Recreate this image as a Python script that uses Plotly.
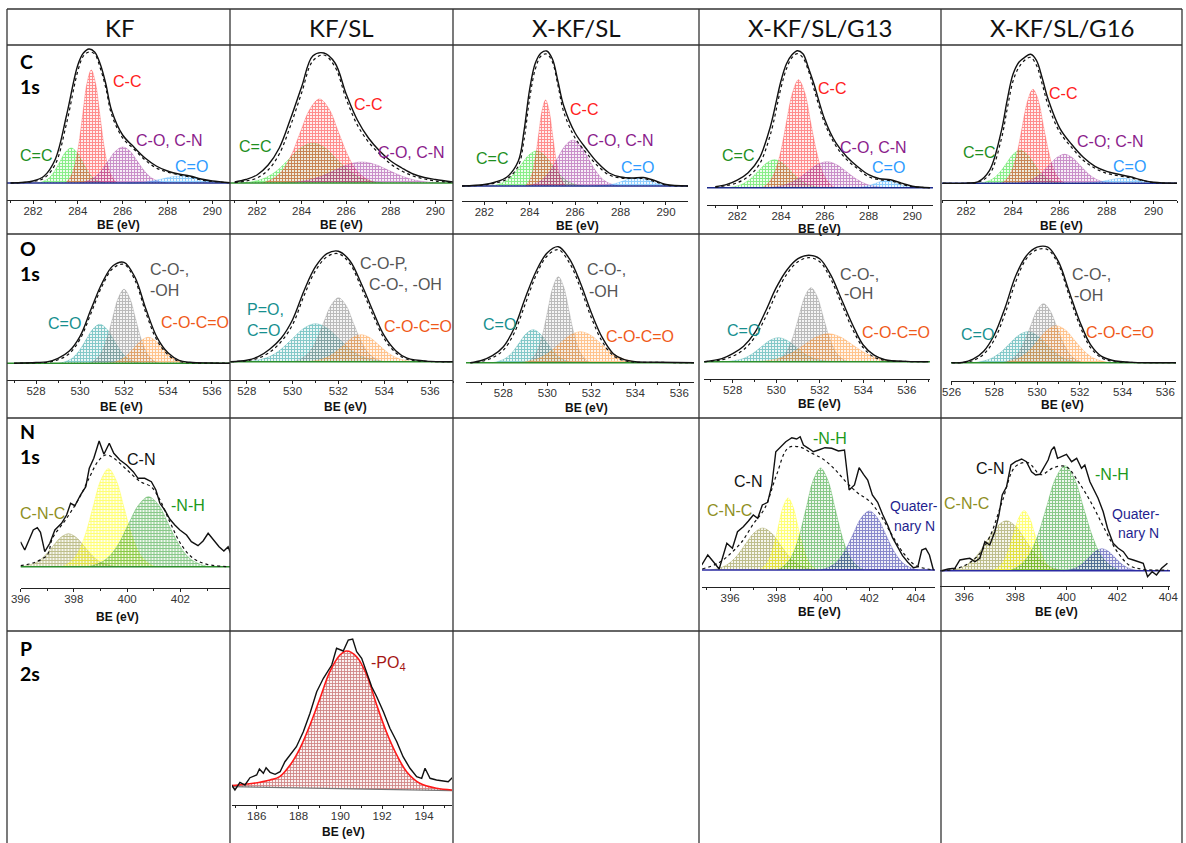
import plotly.graph_objects as go

W, H = 1186, 843

COLUMNS = ["KF", "KF/SL", "X-KF/SL", "X-KF/SL/G13", "X-KF/SL/G16"]
ROWS = [["C", "1s"], ["O", "1s"], ["N", "1s"], ["P", "2s"]]

# ======================= C 1s =======================
# --- KF ---
c1s_kf_be = [281, 282, 282.5, 283, 283.5, 284, 284.25, 284.5, 284.75, 285, 285.25, 285.5, 286, 286.5, 287, 287.5, 288, 288.5, 289, 289.5, 290, 291]
c1s_kf_exp = [0, 2, 7, 24, 68, 118, 130, 134, 131, 119, 99, 73, 48, 36, 25, 17, 12, 9, 7, 4, 2, 0]
c1s_kf_fit = [0, 1.5, 5, 19, 60, 112, 127, 131, 129, 115, 95, 69, 45, 34, 23, 15, 11, 8, 6, 3, 1.5, 0]
c1s_kf_cdc_x = [282.2, 282.45, 282.7, 282.95, 283.2, 283.45, 283.7, 283.95, 284.2, 284.45, 284.7, 284.95, 285.2]
c1s_kf_cdc_y = [0, 1.5, 4.7, 11.4, 21.2, 30.9, 35, 30.9, 21.2, 11.4, 4.7, 1.5, 0]
c1s_kf_cc_x = [283.46, 283.65, 283.84, 284.03, 284.22, 284.41, 284.6, 284.79, 284.98, 285.17, 285.36, 285.55, 285.74]
c1s_kf_cc_y = [0, 5.0, 15.3, 36.7, 68.6, 99.7, 113, 99.7, 68.6, 36.7, 15.3, 5.0, 0]
c1s_kf_co_x = [284.05, 284.38, 284.7, 285.03, 285.35, 285.68, 286.0, 286.33, 286.65, 286.98, 287.3, 287.63, 287.95]
c1s_kf_co_y = [0, 1.6, 4.9, 11.7, 21.9, 31.8, 36, 31.8, 21.9, 11.7, 4.9, 1.6, 0]
c1s_kf_cdo_x = [286.2, 286.6, 287.0, 287.4, 287.8, 288.2, 288.6, 289.0, 289.4, 289.8, 290.2, 290.6, 291.0]
c1s_kf_cdo_y = [0, 0.3, 0.9, 2.3, 4.2, 6.2, 7, 6.2, 4.2, 2.3, 0.9, 0.3, 0]

# --- KF/SL ---
c1s_kfsl_be = [281, 281.5, 282, 282.5, 283, 283.5, 284, 284.5, 285, 285.5, 286, 286.5, 287, 287.5, 288, 288.5, 289, 289.5, 290, 290.8]
c1s_kfsl_exp = [1, 3.5, 8, 18, 35, 64, 96, 127, 130, 120, 89, 63, 45, 32, 22, 15, 9, 5.5, 3.5, 1]
c1s_kfsl_fit = [0.5, 2, 5, 13, 29, 57, 90, 122, 128, 116, 84, 58, 41, 29, 19, 12, 7, 4, 2, 0.5]
c1s_kfsl_cdc_x = [281.35, 281.88, 282.4, 282.93, 283.45, 283.98, 284.5, 285.03, 285.55, 286.08, 286.6, 287.13, 287.65]
c1s_kfsl_cdc_y = [0, 1.8, 5.4, 13, 24.3, 35.3, 40, 35.3, 24.3, 13, 5.4, 1.8, 0]
c1s_kfsl_cc_x = [282.25, 282.68, 283.1, 283.53, 283.95, 284.38, 284.8, 285.23, 285.65, 286.08, 286.5, 286.93, 287.35]
c1s_kfsl_cc_y = [0, 3.7, 11.3, 27.3, 51, 74.1, 84, 74.1, 51, 27.3, 11.3, 3.7, 0]
c1s_kfsl_co_x = [283.1, 283.7, 284.3, 284.9, 285.5, 286.1, 286.7, 287.3, 287.9, 288.5, 289.1, 289.7, 290.3]
c1s_kfsl_co_y = [0, 0.9, 2.8, 6.8, 12.7, 18.5, 21, 18.5, 12.7, 6.8, 2.8, 0.9, 0]

# --- X-KF/SL ---
c1s_xkfsl_be = [281, 282, 282.5, 283, 283.5, 283.75, 284, 284.25, 284.5, 284.75, 285, 285.25, 285.5, 286, 286.5, 287, 287.5, 288, 288.5, 289, 289.5, 290, 291]
c1s_xkfsl_exp = [0, 1.5, 4, 9, 25, 55, 97, 123, 133, 135, 127, 104, 80, 53, 37, 23, 13, 9, 8, 8.5, 5.5, 1.5, 0]
c1s_xkfsl_fit = [0, 1, 3, 7, 20, 46, 88, 117, 130, 132, 124, 100, 74, 48, 33, 20, 11, 8, 7.5, 7.5, 4.5, 1, 0]
c1s_xkfsl_cdc_x = [282.26, 282.6, 282.94, 283.28, 283.62, 283.96, 284.3, 284.64, 284.98, 285.32, 285.66, 286.0, 286.34]
c1s_xkfsl_cdc_y = [0, 1.5, 4.7, 11.4, 21.2, 30.9, 35, 30.9, 21.2, 11.4, 4.7, 1.5, 0]
c1s_xkfsl_cc_x = [283.8, 283.95, 284.1, 284.25, 284.4, 284.55, 284.7, 284.85, 285.0, 285.15, 285.3, 285.45, 285.6]
c1s_xkfsl_cc_y = [0, 3.8, 11.6, 28, 52.2, 75.9, 86, 75.9, 52.2, 28, 11.6, 3.8, 0]
c1s_xkfsl_co_x = [283.89, 284.23, 284.56, 284.9, 285.23, 285.57, 285.9, 286.24, 286.57, 286.91, 287.24, 287.58, 287.91]
c1s_xkfsl_co_y = [0, 2, 6.2, 15, 27.9, 40.6, 46, 40.6, 27.9, 15, 6.2, 2, 0]
c1s_xkfsl_cdo_x = [286.9, 287.2, 287.5, 287.8, 288.1, 288.4, 288.7, 289.0, 289.3, 289.6, 289.9, 290.2, 290.5]
c1s_xkfsl_cdo_y = [0, 0.4, 1.1, 2.6, 4.9, 7.1, 8, 7.1, 4.9, 2.6, 1.1, 0.4, 0]

# --- X-KF/SL/G13 ---
c1s_g13_be = [281, 281.5, 282, 282.5, 283, 283.5, 284, 284.25, 284.5, 284.75, 285, 285.25, 285.5, 286, 286.5, 287, 287.5, 288, 288.5, 289, 289.5, 290, 290.8]
c1s_g13_exp = [1, 3, 7.5, 15, 29, 60, 107, 124, 133, 137, 134, 120, 104, 68, 45, 31, 21, 13, 9, 8, 4.5, 1.5, 0]
c1s_g13_fit = [0.5, 2, 5, 11, 23, 52, 100, 119, 130, 134, 130, 117, 99, 64, 42, 28, 19, 11, 8, 7, 3.5, 1, 0]
c1s_g13_cdc_x = [281.54, 281.9, 282.26, 282.62, 282.98, 283.34, 283.7, 284.06, 284.42, 284.78, 285.14, 285.5, 285.86]
c1s_g13_cdc_y = [0, 1.2, 3.8, 9.1, 17, 24.7, 28, 24.7, 17, 9.1, 3.8, 1.2, 0]
c1s_g13_cc_x = [283.15, 283.43, 283.7, 283.98, 284.25, 284.53, 284.8, 285.08, 285.35, 285.63, 285.9, 286.18, 286.45]
c1s_g13_cc_y = [0, 4.8, 14.6, 35.1, 65.6, 95.3, 108, 95.3, 65.6, 35.1, 14.6, 4.8, 0]
c1s_g13_co_x = [283.4, 283.85, 284.3, 284.75, 285.2, 285.65, 286.1, 286.55, 287.0, 287.45, 287.9, 288.35, 288.8]
c1s_g13_co_y = [0, 1.1, 3.5, 8.5, 15.8, 22.9, 26, 22.9, 15.8, 8.5, 3.5, 1.1, 0]
c1s_g13_cdo_x = [287.3, 287.55, 287.8, 288.05, 288.3, 288.55, 288.8, 289.05, 289.3, 289.55, 289.8, 290.05, 290.3]
c1s_g13_cdo_y = [0, 0.3, 0.9, 2.3, 4.2, 6.2, 7, 6.2, 4.2, 2.3, 0.9, 0.3, 0]

# --- X-KF/SL/G16 ---
c1s_g16_be = [281, 282, 282.5, 283, 283.5, 283.75, 284, 284.25, 284.5, 284.75, 285, 285.25, 285.5, 286, 286.5, 287, 287.5, 288, 288.5, 289, 289.5, 290, 291]
c1s_g16_exp = [0, 0.2, 1.5, 13, 52, 83, 109, 121, 126, 129, 123, 105, 84, 55, 39, 26, 17, 12, 9, 6.5, 3.3, 1, 0]
c1s_g16_fit = [0, 0.1, 1, 9, 44, 74, 102, 116, 123, 126, 118, 99, 78, 51, 36, 23, 15, 10, 7.5, 5.5, 2.8, 0.7, 0]
c1s_g16_cdc_x = [282.56, 282.85, 283.14, 283.43, 283.72, 284.01, 284.3, 284.59, 284.88, 285.17, 285.46, 285.75, 286.04]
c1s_g16_cdc_y = [0, 1.5, 4.5, 10.7, 20, 29.1, 33, 29.1, 20, 10.7, 4.5, 1.5, 0]
c1s_g16_cc_x = [283.5, 283.73, 283.95, 284.18, 284.4, 284.63, 284.85, 285.08, 285.3, 285.53, 285.75, 285.98, 286.2]
c1s_g16_cc_y = [0, 4.1, 12.7, 30.6, 57.1, 82.9, 94, 82.9, 57.1, 30.6, 12.7, 4.1, 0]
c1s_g16_co_x = [284.16, 284.5, 284.84, 285.18, 285.52, 285.86, 286.2, 286.54, 286.88, 287.22, 287.56, 287.9, 288.24]
c1s_g16_co_y = [0, 1.3, 3.9, 9.4, 17.6, 25.6, 29, 25.6, 17.6, 9.4, 3.9, 1.3, 0]
c1s_g16_cdo_x = [286.85, 287.15, 287.45, 287.75, 288.05, 288.35, 288.65, 288.95, 289.25, 289.55, 289.85, 290.15, 290.45]
c1s_g16_cdo_y = [0, 0.2, 0.7, 1.6, 3.0, 4.4, 5, 4.4, 3.0, 1.6, 0.7, 0.2, 0]

# ======================= O 1s =======================
o1s_kf_be = [527, 528, 528.5, 529, 529.5, 530, 530.5, 531, 531.5, 532, 532.5, 533, 533.5, 534, 534.5, 535, 536, 537]
o1s_kf_exp = [0, 0.8, 1.4, 5, 12, 27, 54, 80, 97.5, 101, 86, 54, 26, 10.5, 3, 1, 0.3, 0]
o1s_kf_fit = [0, 0.5, 1, 3.5, 9.5, 24, 50, 77, 95, 99, 83, 50, 23, 8.5, 2, 0.5, 0.2, 0]
o1s_kf_cdo_x = [529.04, 529.35, 529.66, 529.97, 530.28, 530.59, 530.9, 531.21, 531.52, 531.83, 532.14, 532.45, 532.76]
o1s_kf_cdo_y = [0, 1.7, 5.3, 12.7, 23.7, 34.4, 39, 34.4, 23.7, 12.7, 5.3, 1.7, 0]
o1s_kf_coh_x = [530.44, 530.7, 530.96, 531.22, 531.48, 531.74, 532.0, 532.26, 532.52, 532.78, 533.04, 533.3, 533.56]
o1s_kf_coh_y = [0, 3.3, 10, 24.1, 44.9, 65.3, 74, 65.3, 44.9, 24.1, 10, 3.3, 0]
o1s_kf_cooc_x = [531.24, 531.55, 531.86, 532.17, 532.48, 532.79, 533.1, 533.41, 533.72, 534.03, 534.34, 534.65, 534.96]
o1s_kf_cooc_y = [0, 1.1, 3.5, 8.5, 15.8, 22.9, 26, 22.9, 15.8, 8.5, 3.5, 1.1, 0]

o1s_kfsl_be = [527.3, 528, 528.5, 529, 529.5, 530, 530.5, 531, 531.5, 532, 532.5, 533, 533.5, 534, 534.5, 535, 536, 537]
o1s_kfsl_exp = [0, 1.5, 5, 12.5, 23.5, 42, 71, 95, 108, 110.5, 101, 78, 51, 26, 11, 3.5, 0.3, 0]
o1s_kfsl_fit = [0, 1, 3.5, 9.5, 20, 37, 66, 91, 105, 108, 98, 74, 47, 23, 9, 2.5, 0.2, 0]
o1s_kfsl_cdo_x = [528, 528.5, 529, 529.5, 530, 530.5, 531, 531.5, 532, 532.5, 533, 533.5, 534]
o1s_kfsl_cdo_y = [0, 1.7, 5.1, 12.4, 23.1, 33.5, 38, 33.5, 23.1, 12.4, 5.1, 1.7, 0]
o1s_kfsl_coh_x = [530.05, 530.38, 530.7, 531.03, 531.35, 531.68, 532.0, 532.33, 532.65, 532.98, 533.3, 533.63, 533.95]
o1s_kfsl_coh_y = [0, 2.8, 8.6, 20.8, 38.8, 56.4, 64, 56.4, 38.8, 20.8, 8.6, 2.8, 0]
o1s_kfsl_cooc_x = [530.66, 531.05, 531.44, 531.83, 532.22, 532.61, 533.0, 533.39, 533.78, 534.17, 534.56, 534.95, 535.34]
o1s_kfsl_cooc_y = [0, 1.2, 3.6, 8.8, 16.4, 23.8, 27, 23.8, 16.4, 8.8, 3.6, 1.2, 0]

o1s_xkfsl_be = [526.5, 527, 527.5, 528, 528.5, 529, 529.5, 530, 530.5, 531, 531.5, 532, 532.5, 533, 533.5, 534, 535, 536.7]
o1s_xkfsl_exp = [0, 2.2, 7, 16, 35, 65, 92, 110, 116, 104, 80, 50, 25, 9, 3, 1, 0.5, 0]
o1s_xkfsl_fit = [0, 1.2, 5, 12.5, 30, 59, 88, 107, 113, 100, 75, 45, 21, 7, 2, 0.5, 0.3, 0]
o1s_xkfsl_cdo_x = [527.49, 527.8, 528.11, 528.42, 528.73, 529.04, 529.35, 529.66, 529.97, 530.28, 530.59, 530.9, 531.21]
o1s_xkfsl_cdo_y = [0, 1.5, 4.5, 10.7, 20, 29.1, 33, 29.1, 20, 10.7, 4.5, 1.5, 0]
o1s_xkfsl_coh_x = [529.06, 529.3, 529.54, 529.78, 530.02, 530.26, 530.5, 530.74, 530.98, 531.22, 531.46, 531.7, 531.94]
o1s_xkfsl_coh_y = [0, 3.8, 11.6, 28, 52.2, 75.9, 86, 75.9, 52.2, 28, 11.6, 3.8, 0]
o1s_xkfsl_cooc_x = [528.65, 529.13, 529.6, 530.08, 530.55, 531.03, 531.5, 531.98, 532.45, 532.93, 533.4, 533.88, 534.35]
o1s_xkfsl_cooc_y = [0, 1.4, 4.2, 10.1, 18.8, 27.3, 31, 27.3, 18.8, 10.1, 4.2, 1.4, 0]

o1s_g13_be = [526.7, 527.5, 528, 528.5, 529, 529.5, 530, 530.5, 531, 531.5, 532, 532.5, 533, 533.5, 534, 534.5, 535, 536, 537]
o1s_g13_exp = [0, 3, 8, 15.5, 28.5, 50, 74, 92, 103, 106.5, 103, 87, 62.5, 37.5, 16.7, 6.5, 2, 0.3, 0]
o1s_g13_fit = [0, 2, 5.5, 12, 24, 44, 68, 88, 100, 104, 100, 83, 58, 33, 14, 4.5, 1.3, 0.2, 0]
o1s_g13_cdo_x = [527.7, 528.1, 528.5, 528.9, 529.3, 529.7, 530.1, 530.5, 530.9, 531.3, 531.7, 532.1, 532.5]
o1s_g13_cdo_y = [0, 1.1, 3.2, 7.8, 14.6, 21.2, 24, 21.2, 14.6, 7.8, 3.2, 1.1, 0]
o1s_g13_coh_x = [529.92, 530.2, 530.48, 530.76, 531.04, 531.32, 531.6, 531.88, 532.16, 532.44, 532.72, 533.0, 533.28]
o1s_g13_coh_y = [0, 3.3, 10, 24.1, 44.9, 65.3, 74, 65.3, 44.9, 24.1, 10, 3.3, 0]
o1s_g13_cooc_x = [529.1, 529.65, 530.2, 530.75, 531.3, 531.85, 532.4, 532.95, 533.5, 534.05, 534.6, 535.15, 535.7]
o1s_g13_cooc_y = [0, 1.2, 3.8, 9.1, 17, 24.7, 28, 24.7, 17, 9.1, 3.8, 1.2, 0]

o1s_g16_be = [526, 526.5, 527, 527.5, 528, 528.5, 529, 529.5, 530, 530.5, 531, 531.5, 532, 532.5, 533, 533.5, 534.5, 536.5]
o1s_g16_exp = [0, 0.2, 3.5, 11.5, 28, 55, 87, 107, 115.5, 115.5, 101, 71, 41, 18, 6.5, 2.5, 0.3, 0]
o1s_g16_fit = [0, 0.1, 2.2, 8.5, 23, 49, 81, 104, 113, 113, 98, 67, 37, 15, 5, 1.5, 0.2, 0]
o1s_g16_cdo_x = [527.0, 527.43, 527.85, 528.28, 528.7, 529.13, 529.55, 529.98, 530.4, 530.83, 531.25, 531.68, 532.1]
o1s_g16_cdo_y = [0, 1.4, 4.2, 10.1, 18.8, 27.3, 31, 27.3, 18.8, 10.1, 4.2, 1.4, 0]
o1s_g16_coh_x = [528.44, 528.75, 529.06, 529.37, 529.68, 529.99, 530.3, 530.61, 530.92, 531.23, 531.54, 531.85, 532.16]
o1s_g16_coh_y = [0, 2.6, 8, 19.2, 35.8, 52, 59, 52, 35.8, 19.2, 8, 2.6, 0]
o1s_g16_cooc_x = [528.35, 528.78, 529.2, 529.63, 530.05, 530.48, 530.9, 531.33, 531.75, 532.18, 532.6, 533.03, 533.45]
o1s_g16_cooc_y = [0, 1.6, 5, 12, 22.5, 32.6, 37, 32.6, 22.5, 12, 5, 1.6, 0]

# ======================= N 1s =======================
n1s_kf_exp_x = [396.0, 396.16, 396.48, 396.63, 396.75, 396.91, 397.1, 397.29, 397.54, 397.73, 397.88, 398.04, 398.25, 398.45, 398.58, 398.75, 398.95, 399.13, 399.33, 399.5, 399.73, 399.98, 400.23, 400.41, 400.66, 400.91, 401.08, 401.23, 401.41, 401.6, 401.79, 401.98, 402.23, 402.41, 402.66, 402.85, 403.04, 403.23, 403.45, 403.63, 403.79, 403.88]
n1s_kf_exp_y = [25, 16.7, 36.7, 39, 34.3, 15, 23.4, 36.7, 43.4, 51.7, 63.4, 61, 71.7, 80, 98.4, 108.4, 125.7, 112.4, 123.4, 113.4, 106.7, 101.7, 95, 88.4, 88.4, 85, 76.7, 63.4, 56.7, 47.7, 41.7, 36.7, 31.7, 25, 21, 25.7, 33.4, 26.7, 20, 15.7, 20, 13.4]
n1s_kf_fit_x = [396.0, 396.5, 397.0, 397.2, 397.73, 398.2, 398.6, 398.9, 399.2, 399.5, 400.0, 400.5, 400.9, 401.2, 401.6, 402.04, 402.48, 403.0, 403.85]
n1s_kf_fit_y = [1, 4, 11.7, 28.4, 48.4, 68.4, 90, 105, 111.7, 108.4, 96.7, 85, 80, 68.4, 45, 21.7, 8.4, 2.4, 0]
n1s_kf_cnc_x = [396.0, 396.3, 396.6, 396.9, 397.2, 397.5, 397.8, 398.1, 398.4, 398.7, 399.0, 399.3, 399.6]
n1s_kf_cnc_y = [0, 1.5, 4.5, 10.7, 20, 29.1, 33, 29.1, 20, 10.7, 4.5, 1.5, 0]
n1s_kf_cn_x = [397.56, 397.85, 398.14, 398.43, 398.72, 399.01, 399.3, 399.59, 399.88, 400.17, 400.46, 400.75, 401.04]
n1s_kf_cn_y = [0, 4.3, 13.2, 31.9, 59.5, 86.4, 98, 86.4, 59.5, 31.9, 13.2, 4.3, 0]
n1s_kf_nh_x = [398.55, 398.93, 399.3, 399.68, 400.05, 400.43, 400.8, 401.18, 401.55, 401.93, 402.3, 402.68, 403.05]
n1s_kf_nh_y = [0, 3.1, 9.5, 22.8, 42.5, 61.7, 70, 61.7, 42.5, 22.8, 9.5, 3.1, 0]

n1s_g13_exp_x = [394.78, 395.04, 395.28, 395.53, 395.86, 396.1, 396.32, 396.57, 396.79, 397.0, 397.19, 397.39, 397.62, 397.8, 397.97, 398.2, 398.4, 398.66, 398.87, 399.02, 399.16, 399.38, 399.59, 399.81, 400.09, 400.38, 400.67, 400.93, 401.13, 401.36, 401.56, 401.75, 401.93, 402.13, 402.36, 402.57, 402.8, 403.0, 403.23, 403.43, 403.66, 403.9, 404.09, 404.26, 404.43, 404.59, 404.76]
n1s_g13_exp_y = [5, 15, 8.3, 1, 26.7, 21.7, 38.3, 43.3, 49, 55, 51.7, 65, 67.7, 85, 118.3, 123.3, 128.3, 132.3, 131, 133.3, 125, 121.7, 118.3, 120, 122.3, 121.7, 119, 120, 80, 85, 102.3, 95.7, 90, 75, 67.7, 55.7, 44.3, 32.3, 22.3, 14.3, 7.7, 2.3, 3.3, 20, 21.7, 15, 0]
n1s_g13_fit_x = [394.8, 395.5, 396, 396.5, 397, 397.5, 398, 398.5, 399, 399.5, 400, 400.5, 401, 401.5, 402, 402.5, 403, 403.5, 404, 404.8]
n1s_g13_fit_y = [1, 7, 16, 28, 46, 62, 95, 122, 123, 117, 111, 101, 88, 77, 69, 54, 34, 16, 4.5, 0]
n1s_g13_cnc_x = [395.15, 395.53, 395.9, 396.28, 396.65, 397.03, 397.4, 397.78, 398.15, 398.53, 398.9, 399.28, 399.65]
n1s_g13_cnc_y = [0, 1.8, 5.7, 13.7, 25.5, 37, 42, 37, 25.5, 13.7, 5.7, 1.8, 0]
n1s_g13_cn_x = [397.24, 397.45, 397.66, 397.87, 398.08, 398.29, 398.5, 398.71, 398.92, 399.13, 399.34, 399.55, 399.76]
n1s_g13_cn_y = [0, 3.2, 9.7, 23.4, 43.7, 63.5, 72, 63.5, 43.7, 23.4, 9.7, 3.2, 0]
n1s_g13_nh_x = [398.04, 398.35, 398.66, 398.97, 399.28, 399.59, 399.9, 400.21, 400.52, 400.83, 401.14, 401.45, 401.76]
n1s_g13_nh_y = [0, 4.5, 13.8, 33.2, 61.9, 90, 102, 90, 61.9, 33.2, 13.8, 4.5, 0]
n1s_g13_nq_x = [399.9, 400.25, 400.6, 400.95, 401.3, 401.65, 402.0, 402.35, 402.7, 403.05, 403.4, 403.75, 404.1]
n1s_g13_nq_y = [0, 2.6, 8, 19.2, 35.8, 52, 59, 52, 35.8, 19.2, 8, 2.6, 0]

n1s_g16_exp_x = [395.11, 395.37, 395.63, 395.83, 396.03, 396.22, 396.42, 396.61, 396.81, 397.0, 397.2, 397.36, 397.49, 397.66, 397.83, 398.01, 398.25, 398.44, 398.64, 398.8, 398.97, 399.16, 399.29, 399.42, 399.53, 399.66, 399.82, 400.01, 400.21, 400.41, 400.6, 400.73, 400.93, 401.06, 401.25, 401.45, 401.62, 401.84, 402.04, 402.24, 402.43, 402.63, 402.82, 403.02, 403.19, 403.37, 403.54, 403.74, 403.97]
n1s_g16_exp_y = [0, 1.7, 2.4, 10.7, 11.7, 12.4, 9, 12.4, 29, 25.7, 39, 55.7, 75.7, 84, 105.7, 109, 111.7, 109, 99, 95.7, 96.4, 105.7, 110.7, 120.7, 124, 112.4, 114, 116.4, 109, 112.4, 102.4, 105.7, 89, 82.4, 72.4, 59, 42.4, 27.4, 22.4, 19, 12.4, 10.7, 9, 7.4, -6, -1, -4.3, 2.4, 7.4]
n1s_g16_fit_x = [395.1, 395.5, 396, 396.5, 397, 397.5, 398, 398.5, 399, 399.5, 400, 400.5, 401, 401.5, 402, 402.5, 403, 404]
n1s_g16_fit_y = [0, 1, 5, 14, 34, 70, 104, 108, 96, 103, 104, 88, 67, 42, 19, 5, 1.5, 0.5]
n1s_g16_cnc_x = [395.4, 395.78, 396.15, 396.53, 396.9, 397.28, 397.65, 398.03, 398.4, 398.78, 399.15, 399.53, 399.9]
n1s_g16_cnc_y = [0, 2.2, 6.8, 16.3, 30.4, 44.1, 50, 44.1, 30.4, 16.3, 6.8, 2.2, 0]
n1s_g16_cn_x = [397.09, 397.3, 397.51, 397.72, 397.93, 398.14, 398.35, 398.56, 398.77, 398.98, 399.19, 399.4, 399.61]
n1s_g16_cn_y = [0, 2.6, 8.1, 19.5, 36.4, 52.9, 60, 52.9, 36.4, 19.5, 8.1, 2.6, 0]
n1s_g16_nh_x = [397.79, 398.15, 398.51, 398.87, 399.23, 399.59, 399.95, 400.31, 400.67, 401.03, 401.39, 401.75, 402.11]
n1s_g16_nh_y = [0, 4.6, 14.2, 34.1, 63.7, 92.6, 105, 92.6, 63.7, 34.1, 14.2, 4.6, 0]
n1s_g16_nq_x = [399.9, 400.15, 400.4, 400.65, 400.9, 401.15, 401.4, 401.65, 401.9, 402.15, 402.4, 402.65, 402.9]
n1s_g16_nq_y = [0, 1, 3, 7.2, 13.4, 19.4, 22, 19.4, 13.4, 7.2, 3, 1, 0]

# ======================= P 2s (KF/SL) =======================
p2s_exp_x = [184.8, 184.96, 185.2, 185.44, 185.68, 186.0, 186.13, 186.32, 186.45, 186.64, 186.88, 187.12, 187.35, 187.59, 187.9, 188.23, 188.55, 188.87, 189.19, 189.59, 189.82, 190.14, 190.38, 190.59, 190.78, 191.02, 191.26, 191.5, 191.74, 192.06, 192.37, 192.7, 193.0, 193.33, 193.65, 193.89, 194.05, 194.29, 194.6, 194.92, 195.16, 195.35]
p2s_exp_y = [5, 0, 7.7, 5, 12.3, 15, 21, 16.7, 22.3, 17.7, 15.7, 18.3, 28.3, 35, 43.3, 58.3, 76.7, 98.3, 111.7, 125, 141.7, 139, 150, 151, 138.3, 131.7, 118.3, 103.3, 93.3, 78.3, 61.7, 48.3, 33.3, 21.7, 13.3, 11.7, 21.7, 11.7, 10, 9, 8.3, 12.3]
p2s_po4_x = [184.8, 185.84, 186.64, 187.1, 187.6, 188.07, 188.55, 189.03, 189.5, 189.98, 190.3, 190.78, 191.26, 191.74, 192.2, 192.7, 193.17, 193.8, 194.6, 195.35]
p2s_po4_y = [4.3, 6.7, 10, 13.3, 25, 41.7, 65, 91.7, 118.3, 135, 139, 133.3, 115, 85, 58.3, 35, 18.3, 6.7, 1.7, 0]
p2s_base_x = [184.8, 195.35]
p2s_base_y = [3.3, -0.7]

# ---------------- styles ----------------
FILL = {
    "cdc": "#22dd22", "cc": "#ff2a2a", "co": "#9c2f9c", "cdo": "#2fa4ff",
    "ocdo": "#179999", "coh": "#808080", "cooc": "#ff8f2a",
    "cnc": "#85852a", "cn": "#ffff00", "nh": "#239a23", "nq": "#23239e",
    "po4": "#a31818",
}


def rgba(hexc, a):
    h = hexc.lstrip("#")
    return "rgba(%d,%d,%d,%.2f)" % (int(h[0:2], 16), int(h[2:4], 16), int(h[4:6], 16), a)


# geometry of each panel in pixels (layout only)
CELLS = [
    dict(px=(7, 230), axis=200, base=183, top=45, xr=(280.84, 290.79), be=(118.5, 225),
         comps=[("cdc", c1s_kf_cdc_x, c1s_kf_cdc_y), ("cc", c1s_kf_cc_x, c1s_kf_cc_y),
                ("co", c1s_kf_co_x, c1s_kf_co_y), ("cdo", c1s_kf_cdo_x, c1s_kf_cdo_y)],
         fit=(c1s_kf_be, c1s_kf_fit), exp=(c1s_kf_be, c1s_kf_exp), basec="#1c2a8c", smooth=True),
    dict(px=(230, 453), axis=200, base=183, top=45, xr=(280.79, 290.79), be=(341.5, 225),
         comps=[("cdc", c1s_kfsl_cdc_x, c1s_kfsl_cdc_y), ("cc", c1s_kfsl_cc_x, c1s_kfsl_cc_y),
                ("co", c1s_kfsl_co_x, c1s_kfsl_co_y)],
         fit=(c1s_kfsl_be, c1s_kfsl_fit), exp=(c1s_kfsl_be, c1s_kfsl_exp), basec="#2d8f2d", smooth=True),
    dict(px=(462, 688), axis=201, base=186, top=45, xr=(281.02, 290.97), be=(577, 226),
         comps=[("cdc", c1s_xkfsl_cdc_x, c1s_xkfsl_cdc_y), ("cc", c1s_xkfsl_cc_x, c1s_xkfsl_cc_y),
                ("co", c1s_xkfsl_co_x, c1s_xkfsl_co_y), ("cdo", c1s_xkfsl_cdo_x, c1s_xkfsl_cdo_y)],
         fit=(c1s_xkfsl_be, c1s_xkfsl_fit), exp=(c1s_xkfsl_be, c1s_xkfsl_exp), basec="#1c2a8c", smooth=True),
    dict(px=(707, 933), axis=205, base=187.7, top=45, xr=(280.62, 290.94), be=(819, 229),
         comps=[("cdc", c1s_g13_cdc_x, c1s_g13_cdc_y), ("cc", c1s_g13_cc_x, c1s_g13_cc_y),
                ("co", c1s_g13_co_x, c1s_g13_co_y), ("cdo", c1s_g13_cdo_x, c1s_g13_cdo_y)],
         fit=(c1s_g13_be, c1s_g13_fit), exp=(c1s_g13_be, c1s_g13_exp), basec="#1c2a8c", smooth=True),
    dict(px=(942, 1177), axis=200, base=183.3, top=45, xr=(280.97, 291.0), be=(1061, 226),
         comps=[("cdc", c1s_g16_cdc_x, c1s_g16_cdc_y), ("cc", c1s_g16_cc_x, c1s_g16_cc_y),
                ("co", c1s_g16_co_x, c1s_g16_co_y), ("cdo", c1s_g16_cdo_x, c1s_g16_cdo_y)],
         fit=(c1s_g16_be, c1s_g16_fit), exp=(c1s_g16_be, c1s_g16_exp), basec="#1c2a8c", smooth=True),
    dict(px=(7, 230), axis=380, base=363.3, top=234, xr=(526.68, 536.82), be=(121, 407),
         comps=[("ocdo", o1s_kf_cdo_x, o1s_kf_cdo_y), ("coh", o1s_kf_coh_x, o1s_kf_coh_y),
                ("cooc", o1s_kf_cooc_x, o1s_kf_cooc_y)],
         fit=(o1s_kf_be, o1s_kf_fit), exp=(o1s_kf_be, o1s_kf_exp), basec="#2d8f2d", smooth=True),
    dict(px=(230, 453), axis=380, base=361.7, top=234, xr=(527.27, 537.0), be=(345, 407),
         comps=[("ocdo", o1s_kfsl_cdo_x, o1s_kfsl_cdo_y), ("coh", o1s_kfsl_coh_x, o1s_kfsl_coh_y),
                ("cooc", o1s_kfsl_cooc_x, o1s_kfsl_cooc_y)],
         fit=(o1s_kfsl_be, o1s_kfsl_fit), exp=(o1s_kfsl_be, o1s_kfsl_exp), basec="#2d8f2d", smooth=True),
    dict(px=(466, 694), axis=381.7, base=362.7, top=234, xr=(526.3, 536.67), be=(586, 408),
         comps=[("ocdo", o1s_xkfsl_cdo_x, o1s_xkfsl_cdo_y), ("coh", o1s_xkfsl_coh_x, o1s_xkfsl_coh_y),
                ("cooc", o1s_xkfsl_cooc_x, o1s_xkfsl_cooc_y)],
         fit=(o1s_xkfsl_be, o1s_xkfsl_fit), exp=(o1s_xkfsl_be, o1s_xkfsl_exp), basec="#2d8f2d", smooth=True),
    dict(px=(704, 930), axis=379.3, base=361.7, top=234, xr=(526.68, 537.07), be=(819, 404),
         comps=[("ocdo", o1s_g13_cdo_x, o1s_g13_cdo_y), ("coh", o1s_g13_coh_x, o1s_g13_coh_y),
                ("cooc", o1s_g13_cooc_x, o1s_g13_cooc_y)],
         fit=(o1s_g13_be, o1s_g13_fit), exp=(o1s_g13_be, o1s_g13_exp), basec="#2d8f2d", smooth=True),
    dict(px=(951, 1176), axis=380.7, base=362.7, top=234, xr=(525.97, 536.5), be=(1062, 405),
         comps=[("ocdo", o1s_g16_cdo_x, o1s_g16_cdo_y), ("coh", o1s_g16_coh_x, o1s_g16_coh_y),
                ("cooc", o1s_g16_cooc_x, o1s_g16_cooc_y)],
         fit=(o1s_g16_be, o1s_g16_fit), exp=(o1s_g16_be, o1s_g16_exp), basec="#2d8f2d", smooth=True),
    dict(px=(20.5, 230), axis=588.3, base=566.7, top=418, xr=(396.0, 403.86), be=(117, 617),
         comps=[("cnc", n1s_kf_cnc_x, n1s_kf_cnc_y), ("cn", n1s_kf_cn_x, n1s_kf_cn_y),
                ("nh", n1s_kf_nh_x, n1s_kf_nh_y)],
         fit=(n1s_kf_fit_x, n1s_kf_fit_y), exp=(n1s_kf_exp_x, n1s_kf_exp_y), basec="#2d8f2d", smooth=False),
    dict(px=(702, 935), axis=587.3, base=570, top=418, xr=(394.79, 404.83), be=(819, 612),
         comps=[("cnc", n1s_g13_cnc_x, n1s_g13_cnc_y), ("cn", n1s_g13_cn_x, n1s_g13_cn_y),
                ("nh", n1s_g13_nh_x, n1s_g13_nh_y), ("nq", n1s_g13_nq_x, n1s_g13_nq_y)],
         fit=(n1s_g13_fit_x, n1s_g13_fit_y), exp=(n1s_g13_exp_x, n1s_g13_exp_y), basec="#2b2ba3", smooth=False),
    dict(px=(940, 1170), axis=586, base=570.7, top=418, xr=(395.05, 404.07), be=(1056, 612),
         comps=[("cnc", n1s_g16_cnc_x, n1s_g16_cnc_y), ("cn", n1s_g16_cn_x, n1s_g16_cn_y),
                ("nh", n1s_g16_nh_x, n1s_g16_nh_y), ("nq", n1s_g16_nq_x, n1s_g16_nq_y)],
         fit=(n1s_g16_fit_x, n1s_g16_fit_y), exp=(n1s_g16_exp_x, n1s_g16_exp_y), basec="#2b2ba3", smooth=False),
    dict(px=(232, 452), axis=805, base=790, top=631, xr=(184.82, 195.34), be=(343, 832),
         comps=[], fit=None, exp=(p2s_exp_x, p2s_exp_y), basec=None, smooth=False, p2s=True),
]

# peak labels: (text, x_px, y_px, color, size, xanchor)
LABELS = [
    ("C=C", 36, 156, "#1f8f1f", 16, "center"), ("C-C", 127, 81, "#ff2020", 16, "center"),
    ("C-O, C-N", 169, 140, "#8b1c8b", 16, "center"), ("C=O", 191, 166, "#2f9bff", 16, "center"),
    ("C=C", 255, 146, "#1f8f1f", 16, "center"), ("C-C", 368, 104, "#ff2020", 16, "center"),
    ("C-O, C-N", 411, 153, "#8b1c8b", 16, "center"),
    ("C=C", 492, 159, "#1f8f1f", 16, "center"), ("C-C", 584, 109, "#ff2020", 16, "center"),
    ("C-O, C-N", 620, 140, "#8b1c8b", 16, "center"), ("C=O", 637, 167, "#2f9bff", 16, "center"),
    ("C=C", 738, 156, "#1f8f1f", 16, "center"), ("C-C", 832, 88, "#ff2020", 16, "center"),
    ("C-O, C-N", 874, 147, "#8b1c8b", 16, "center"), ("C=O", 888, 167, "#2f9bff", 16, "center"),
    ("C=C", 979, 153, "#1f8f1f", 16, "center"), ("C-C", 1063, 94, "#ff2020", 16, "center"),
    ("C-O; C-N", 1110, 141, "#8b1c8b", 16, "center"), ("C=O", 1129, 166, "#2f9bff", 16, "center"),
    ("C=O", 64, 323, "#178f8f", 16, "center"), ("C-O-,", 148, 269, "#555555", 16, "left"),
    ("-OH", 148, 290, "#555555", 16, "left"), ("C-O-C=O", 195, 322, "#f05a1a", 16, "center"),
    ("P=O,", 245, 310, "#178f8f", 16, "left"), ("C=O", 245, 331, "#178f8f", 16, "left"),
    ("C-O-P,", 358, 263, "#555555", 16, "left"), ("C-O-, -OH", 367, 284, "#555555", 16, "left"),
    ("C-O-C=O", 418, 326, "#f05a1a", 16, "center"),
    ("C=O", 499, 324, "#178f8f", 16, "center"), ("C-O-,", 585, 269, "#555555", 16, "left"),
    ("-OH", 587, 291, "#555555", 16, "left"), ("C-O-C=O", 640, 336, "#f05a1a", 16, "center"),
    ("C=O", 743, 331, "#178f8f", 16, "center"), ("C-O-,", 838, 275, "#555555", 16, "left"),
    ("-OH", 842, 293, "#555555", 16, "left"), ("C-O-C=O", 896, 333, "#f05a1a", 16, "center"),
    ("C=O", 977, 334, "#178f8f", 16, "center"), ("C-O-,", 1070, 274, "#555555", 16, "left"),
    ("-OH", 1072, 295, "#555555", 16, "left"), ("C-O-C=O", 1120, 333, "#f05a1a", 16, "center"),
    ("C-N", 141, 459, "#111111", 16, "center"), ("C-N-C", 42, 513, "#8f8f1f", 16, "center"),
    ("-N-H", 188, 506, "#1c991c", 16, "center"),
    ("C-N", 748, 481, "#111111", 16, "center"), ("C-N-C", 729, 510, "#8f8f1f", 16, "center"),
    ("-N-H", 830, 438, "#1c991c", 16, "center"), ("Quater-", 914, 506, "#1f1f8f", 14, "center"),
    ("nary N", 914, 526, "#1f1f8f", 14, "center"),
    ("C-N", 990, 468, "#111111", 16, "center"), ("C-N-C", 966, 503, "#8f8f1f", 16, "center"),
    ("-N-H", 1112, 475, "#1c991c", 16, "center"), ("Quater-", 1136, 514, "#1f1f8f", 14, "center"),
    ("nary N", 1138, 533, "#1f1f8f", 14, "center"),
    ("-PO<sub>4</sub>", 388, 663, "#a51616", 16, "center"),
]

COL_X = [119, 341.5, 576, 820, 1062]
ROW_Y = [74, 261, 444, 661]
V_LINES = [7, 230, 453, 699, 941, 1182]
H_LINES = [9, 45, 234, 418, 631]

FONT = "Liberation Sans, Arial, sans-serif"
HFONT = "Lato, Noto Sans, sans-serif"

fig = go.Figure()
layout = {}
annotations = []

for i, c in enumerate(CELLS, start=1):
    xa = "x" if i == 1 else "x%d" % i
    ya = "y" if i == 1 else "y%d" % i
    x0, x1 = c["px"]
    layout["xaxis" if i == 1 else "xaxis%d" % i] = dict(
        domain=[x0 / W, x1 / W], range=list(c["xr"]), anchor=ya, automargin=False,
        showline=True, linecolor="#222", linewidth=1, ticks="outside", ticklen=3,
        tickwidth=1, tickcolor="#222", tick0=0, dtick=2, showgrid=False, zeroline=False,
        ticklabelstandoff=-3,
        minor=dict(ticks="outside", ticklen=2, dtick=1, tick0=0, tickcolor="#222", showgrid=False),
        tickfont=dict(family=FONT, size=11.5, color="#333"), fixedrange=True)
    layout["yaxis" if i == 1 else "yaxis%d" % i] = dict(
        domain=[1 - c["axis"] / H, 1 - c["top"] / H], automargin=False,
        range=[c["base"] - c["axis"], c["base"] - c["top"]], visible=False, anchor=xa,
        fixedrange=True)
    shape = "spline" if c["smooth"] else "linear"
    for key, xs, ys in c["comps"]:
        col = FILL[key]
        fig.add_trace(go.Scatter(
            x=xs, y=ys, xaxis=xa, yaxis=ya, mode="lines", showlegend=False, hoverinfo="skip",
            line=dict(color=rgba(col, 0.5), width=0.6, shape="spline", smoothing=1),
            fill="tozeroy", fillcolor=rgba(col, 0.08),
            fillpattern=dict(shape="+", fgcolor=col, bgcolor=rgba(col, 0.08), size=3,
                             solidity=0.55)))
    if c.get("p2s"):
        fig.add_trace(go.Scatter(x=p2s_base_x, y=p2s_base_y, xaxis=xa, yaxis=ya, mode="lines",
                                 showlegend=False, hoverinfo="skip",
                                 line=dict(color="#777777", width=1.2)))
        fig.add_trace(go.Scatter(
            x=p2s_po4_x, y=p2s_po4_y, xaxis=xa, yaxis=ya, mode="lines", showlegend=False,
            hoverinfo="skip", line=dict(color="#ff1a1a", width=1.6, shape="spline", smoothing=1),
            fill="tonexty", fillcolor=rgba(FILL["po4"], 0.08),
            fillpattern=dict(shape="+", fgcolor=FILL["po4"], bgcolor=rgba(FILL["po4"], 0.06),
                             size=3, solidity=0.5)))
    else:
        fig.add_trace(go.Scatter(x=list(c["xr"]), y=[0, 0], xaxis=xa, yaxis=ya, mode="lines",
                                 showlegend=False, hoverinfo="skip",
                                 line=dict(color=c["basec"], width=1.4)))
        fx, fy = c["fit"]
        fig.add_trace(go.Scatter(x=fx, y=fy, xaxis=xa, yaxis=ya, mode="lines", showlegend=False,
                                 hoverinfo="skip",
                                 line=dict(color="#111111", width=1.2, dash="dot",
                                           shape="spline", smoothing=1)))
    ex, ey = c["exp"]
    fig.add_trace(go.Scatter(x=ex, y=ey, xaxis=xa, yaxis=ya, mode="lines", showlegend=False,
                             hoverinfo="skip",
                             line=dict(color="#111111", width=1.4, shape=shape,
                                       smoothing=1 if c["smooth"] else 0)))
    bx, by = c["be"]
    annotations.append(dict(text="<b>BE (eV)</b>", x=bx / W, y=1 - by / H, xref="paper",
                            yref="paper", showarrow=False, xanchor="center", yanchor="middle",
                            font=dict(family=FONT, size=12, color="#111")))

for text, px, py, color, size, anchor in LABELS:
    annotations.append(dict(text=text, x=px / W, y=1 - py / H, xref="paper", yref="paper",
                            showarrow=False, xanchor=anchor, yanchor="middle",
                            font=dict(family=FONT, size=size, color=color)))

for name, cx in zip(COLUMNS, COL_X):
    annotations.append(dict(text=name, x=cx / W, y=1 - 27 / H, xref="paper", yref="paper",
                            showarrow=False, xanchor="center", yanchor="middle",
                            font=dict(family=HFONT, size=24, color="#111")))

for (a, b), yc in zip(ROWS, ROW_Y):
    annotations.append(dict(text="<b>%s<br>%s</b>" % (a, b), x=18 / W, y=1 - yc / H,
                            xref="paper", yref="paper", showarrow=False, xanchor="left",
                            yanchor="middle", align="left",
                            font=dict(family=HFONT, size=19.5, color="#000")))

shapes = []
for vx in V_LINES:
    shapes.append(dict(type="line", xref="paper", yref="paper", x0=vx / W, x1=vx / W,
                       y0=1 - 9 / H, y1=0, line=dict(color="#333", width=1.3)))
for hy in H_LINES:
    shapes.append(dict(type="line", xref="paper", yref="paper", x0=7 / W, x1=1182 / W,
                       y0=1 - hy / H, y1=1 - hy / H, line=dict(color="#333", width=1.3)))

fig.update_layout(
    width=W, height=H, margin=dict(l=0, r=0, t=0, b=0, autoexpand=False), autosize=False,
    paper_bgcolor="white", plot_bgcolor="white", showlegend=False,
    annotations=annotations, shapes=shapes, **layout)

fig.write_html("out.html", config={"displayModeBar": False},
               post_script="document.body.style.margin='0px';")
